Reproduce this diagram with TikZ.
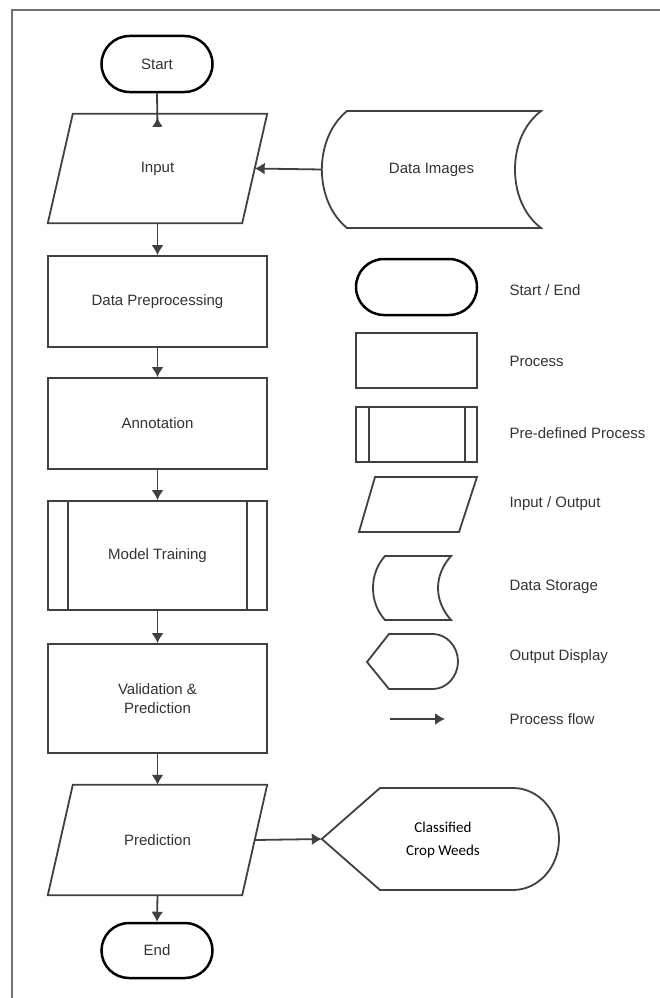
\documentclass[tikz,border=0pt]{standalone}
\usepackage{fontspec}
\setmainfont{Liberation Sans}
\newfontfamily\calib{Carlito}
\usetikzlibrary{arrows.meta,shapes.misc}
\definecolor{ln}{HTML}{404040}
\definecolor{tx}{HTML}{333333}
\definecolor{fr}{HTML}{707070}
\begin{document}
\begin{tikzpicture}[x=1pt,y=-1pt,
  every node/.style={font=\fontsize{15}{19}\selectfont, text=tx, align=center},
  term/.style={rounded rectangle, draw=black, line width=2.5pt, minimum width=111pt, minimum height=56pt, inner sep=0pt},
  proc/.style={rectangle, draw=ln, line width=1.8pt, minimum width=219pt, inner sep=0pt},
  holder/.style={rectangle, inner sep=0pt},
  arr/.style={draw=ln, line width=1.8pt, -{Latex[length=10pt,width=12pt]}},
  shp/.style={draw=ln, line width=1.8pt, line join=miter},
  lbl/.style={anchor=west}
]
\useasboundingbox (0,0) rectangle (660,998);
\fill[white] (0,0) rectangle (660,998);
% frame
\draw[fr, line width=2pt] (12,998) -- (12,10) -- (660,10);

% main flow
\node[term] (start) at (157,64) {Start};
\node[holder, minimum width=194pt, minimum height=109pt] (input) at (157.5,168.5) {Input};
\draw[shp] ([xshift=12.5pt]input.north west) -- ([xshift=12.5pt]input.north east) -- ([xshift=-12.5pt]input.south east) -- ([xshift=-12.5pt]input.south west) -- cycle;

\node[proc, minimum height=91pt] (prep) at (157.5,301.5) {Data Preprocessing};
\node[proc, minimum height=91pt] (annot) at (157.5,423.5) {Annotation};
\node[proc, minimum height=109pt] (train) at (157.5,555.5) {Model Training};
\draw[shp] ([xshift=21pt]train.north west) -- ([xshift=21pt]train.south west);
\draw[shp] ([xshift=-21pt]train.north east) -- ([xshift=-21pt]train.south east);
\node[proc, minimum height=109pt] (valid) at (157.5,698.5) {Validation \&\\Prediction};

\node[holder, minimum width=194pt, minimum height=110pt] (pred) at (157.5,840) {Prediction};
\draw[shp] ([xshift=12.5pt]pred.north west) -- ([xshift=12.5pt]pred.north east) -- ([xshift=-12.5pt]pred.south east) -- ([xshift=-12.5pt]pred.south west) -- cycle;

\node[term, minimum height=55pt] (end) at (157,950.5) {End};

% data images (storage)
\node[holder, minimum width=219pt, minimum height=117pt] (dimg) at (431.5,169.5) {Data Images};
\draw[shp] (347,111) -- (541,111) .. controls (523,125) and (515,147) .. (515,169.5)
  .. controls (515,192) and (523,214) .. (541,228) -- (347,228)
  .. controls (330,214) and (322,192) .. (dimg.west)
  .. controls (322,147) and (330,125) .. (347,111) -- cycle;

% output display
\node[holder, minimum width=237pt, minimum height=102pt] (disp) at (440.5,839) {};
\node[font=\calib\fontsize{15}{23}\selectfont, text=black] (dispt) at (443,840) {Classified\\Crop Weeds};
\draw[shp] (disp.west) -- (380,788) -- (513,788) .. controls (538.4,788) and (559,811) .. (559,839)
  .. controls (559,867) and (538.4,890) .. (513,890) -- (380,890) -- cycle;

% connectors
\draw[draw=ln, line width=1.8pt, -{Latex[length=9pt,width=11pt,reversed]}] (start.south) -- ([yshift=-13pt]input.north);
\draw[arr] (input.south) -- (prep.north);
\draw[arr] (prep.south) -- (annot.north);
\draw[arr] (annot.south) -- (train.north);
\draw[arr] (train.south) -- (valid.north);
\draw[arr] (valid.south) -- (pred.north);
\draw[arr] (pred.south) -- (end.north);
\draw[arr] (dimg.west) -- (input.east);
\draw[arr] (pred.east) -- (disp.west);

% legend
\draw[black, line width=2.5pt, rounded corners=28pt] (356,259) rectangle (477,315);
\draw[shp] (356,333) rectangle (477,388);
\draw[shp] (356,407) rectangle (477,462);
\draw[shp] (369,407) -- (369,462);
\draw[shp] (465,407) -- (465,462);
\draw[shp] (375,477) -- (477,477) -- (459,532) -- (359,532) -- cycle;
\draw[shp] (385,556) -- (451,556) .. controls (443,565) and (438,576) .. (438,588)
  .. controls (438,600) and (443,611) .. (451,620) -- (385,620)
  .. controls (377,611) and (373,600) .. (373,588)
  .. controls (373,576) and (377,565) .. (385,556) -- cycle;
\draw[shp] (367,662) -- (389,634) -- (433,634) .. controls (446.8,634) and (458,646.8) .. (458,661.5)
  .. controls (458,676.2) and (446.8,689) .. (433,689) -- (389,689) -- cycle;
\coordinate (fa) at (390,719);
\coordinate (fb) at (445,719);
\draw[arr] (fa) -- (fb);

\node[lbl] (l1) at (506,290) {Start / End};
\node[lbl] (l2) at (506,361) {Process};
\node[lbl] (l3) at (506,433) {Pre-defined Process};
\node[lbl] (l4) at (506,504) {Input / Output};
\node[lbl] (l5) at (506,587) {Data Storage};
\node[lbl] (l6) at (506,657) {Output Display};
\node[lbl] (l7) at (506,719) {Process flow};
\end{tikzpicture}
\end{document}
